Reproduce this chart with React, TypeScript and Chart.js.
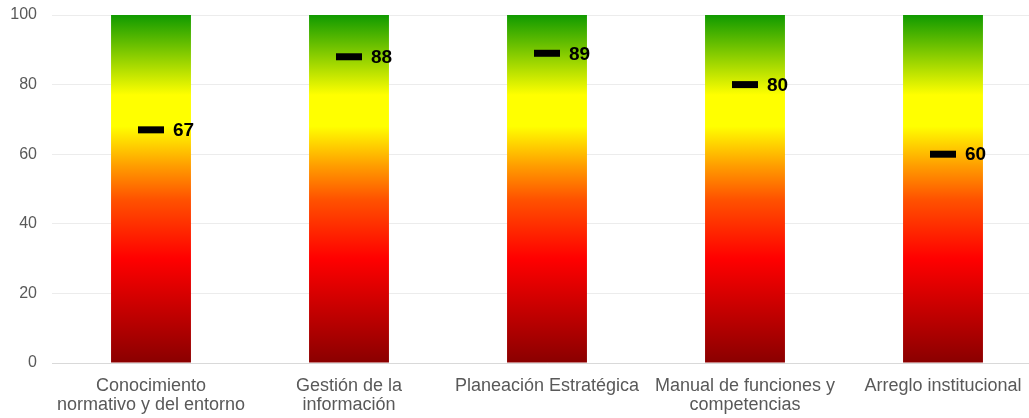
import React, { useEffect, useRef } from 'react';
import { Chart, registerables } from 'chart.js';

Chart.register(...registerables);

// Chart data
const categories: (string | string[])[] = [
  ['Conocimiento', 'normativo y del entorno'],
  ['Gestión de la', 'información'],
  'Planeación Estratégica',
  ['Manual de funciones y', 'competencias'],
  'Arreglo institucional',
];
const scoreValues = [67, 88, 89, 80, 60];
const rangeValues = [100, 100, 100, 100, 100];
const yTickValues = [0, 20, 40, 60, 80, 100];

// Colour stops of the background bars, bottom (0) to top (1)
const gradientStops: [number, string][] = [
  [0, '#8a0000'],
  [0.3, '#ff0000'],
  [0.47, '#ff5200'],
  [0.57, '#ffa000'],
  [0.68, '#ffff00'],
  [0.77, '#ffff00'],
  [1, '#109a00'],
];

const valueLabels = {
  id: 'valueLabels',
  afterDatasetsDraw(chart: Chart) {
    const meta = chart.getDatasetMeta(0);
    const ctx = chart.ctx;
    ctx.save();
    ctx.font = 'bold 19px "Liberation Sans", Arial, sans-serif';
    ctx.fillStyle = '#000000';
    ctx.textAlign = 'left';
    ctx.textBaseline = 'middle';
    meta.data.forEach((pt: any, i: number) => {
      ctx.fillText(String(scoreValues[i]), pt.x + 22, pt.y + 1);
    });
    ctx.restore();
  },
};

const App: React.FC = () => {
  const chartRef = useRef<HTMLCanvasElement>(null);
  const chartInstanceRef = useRef<Chart | null>(null);

  useEffect(() => {
    if (!chartRef.current) return;
    const ctx = chartRef.current.getContext('2d');
    if (!ctx) return;

    chartInstanceRef.current = new Chart(ctx, {
      type: 'bar',
      data: {
        labels: categories,
        datasets: [
          {
            type: 'line' as const,
            label: 'Puntaje',
            data: scoreValues,
            showLine: false,
            pointStyle: 'line',
            pointRadius: 13,
            pointHoverRadius: 13,
            pointBorderWidth: 7,
            pointBorderColor: '#000000',
            pointBackgroundColor: '#000000',
            order: 0,
          },
          {
            type: 'bar' as const,
            label: 'Rango',
            data: rangeValues,
            barPercentage: 0.4036,
            categoryPercentage: 1,
            borderWidth: 0,
            order: 1,
            backgroundColor: (context: any) => {
              const { chart } = context;
              const area = chart.chartArea;
              if (!area) return '#ff0000';
              const g = chart.ctx.createLinearGradient(0, area.bottom, 0, area.top);
              gradientStops.forEach(([pos, color]) => g.addColorStop(pos, color));
              return g;
            },
          },
        ],
      },
      options: {
        responsive: true,
        maintainAspectRatio: false,
        animation: false,
        layout: {
          autoPadding: false,
          padding: { left: 10, right: 2, top: 15, bottom: 0 },
        },
        plugins: {
          legend: { display: false },
          tooltip: { enabled: false },
        },
        scales: {
          x: {
            grid: { display: false, drawTicks: false },
            border: { color: '#d9d9d9', width: 1 },
            ticks: {
              color: '#595959',
              font: { family: '"Liberation Sans", Arial, sans-serif', size: 18, lineHeight: 1.05 },
              padding: 14,
              maxRotation: 0,
              autoSkip: false,
            },
            afterFit: (scale: any) => {
              scale.height = 55;
              scale.paddingLeft = 0;
              scale.paddingRight = 0;
            },
          },
          y: {
            min: 0,
            max: 100,
            afterBuildTicks: (scale: any) => {
              scale.ticks = yTickValues.map((v) => ({ value: v }));
            },
            afterFit: (scale: any) => {
              scale.width = 42;
              scale.paddingTop = 0;
              scale.paddingBottom = 0;
            },
            grid: { color: '#ececec', drawTicks: false },
            border: { display: false },
            ticks: {
              color: '#595959',
              font: { family: '"Liberation Sans", Arial, sans-serif', size: 16 },
              padding: 15,
            },
          },
        },
      },
      plugins: [valueLabels],
    } as any);

    return () => {
      if (chartInstanceRef.current) {
        chartInstanceRef.current.destroy();
        chartInstanceRef.current = null;
      }
    };
  }, []);

  return (
    <div style={{ position: 'absolute', left: 0, top: 0, width: 1029, height: 418, overflow: 'hidden', background: '#ffffff' }}>
      <div style={{ position: 'relative', width: 1044, height: 418 }}>
        <canvas ref={chartRef} />
      </div>
    </div>
  );
};

export default App;
